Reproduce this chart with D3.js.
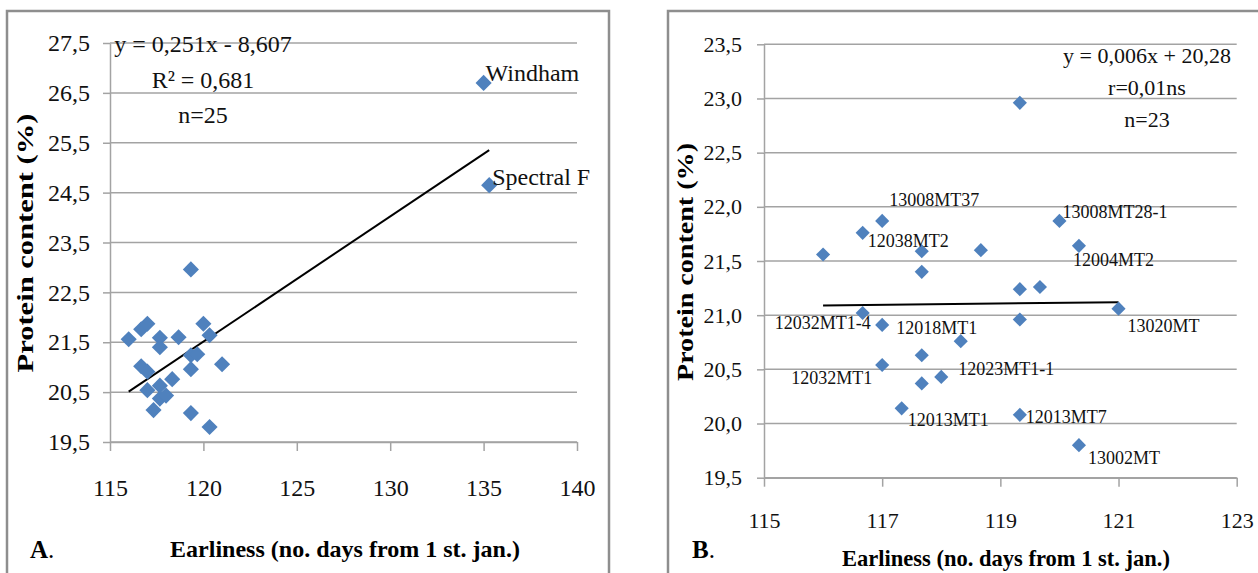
<!DOCTYPE html>
<html>
<head>
<meta charset="utf-8">
<script src="https://cdn.jsdelivr.net/npm/d3@7"></script>
<style>
  body { margin: 0; background: #fff; }
  svg, svg text { font-family: "Liberation Serif", "Times New Roman", "DejaVu Serif", serif; }
</style>
</head>
<body>
<div id="chart"></div>
<script>
// breeding lines (panel B, also the cluster in panel A)
const lineNames = ["", "12038MT2", "13008MT37", "", "", "12032MT1-4", "12018MT1", "", "12032MT1", "",
  "12023MT1-1", "12013MT1", "", "", "", "13020MT", "", "12013MT7", "13002MT", "", "", "13008MT28-1", "12004MT2"];
const lineDays = [116.0, 116.67, 117.0, 117.67, 117.67, 116.67, 117.0, 117.67, 117.0, 117.67,
  118.0, 117.33, 118.33, 119.33, 119.67, 121.0, 119.33, 119.33, 120.33, 119.33, 118.67, 120.0, 120.33];
const lineProtein = [21.56, 21.76, 21.87, 21.59, 21.40, 21.02, 20.91, 20.63, 20.54, 20.37,
  20.43, 20.14, 20.76, 21.24, 21.26, 21.06, 20.96, 20.08, 19.80, 22.96, 21.60, 21.87, 21.64];

// check cultivars, only in panel A
const cultivarNames = ["Windham", "Spectral F"];
const cultivarDays = [135.0, 135.3];
const cultivarProtein = [26.7, 24.65];

// axis ticks
const xTicksA = [115, 120, 125, 130, 135, 140];
const yTicksA = [19.5, 20.5, 21.5, 22.5, 23.5, 24.5, 25.5, 26.5, 27.5];
const xTicksB = [115, 117, 119, 121, 123];
const yTicksB = [19.5, 20.0, 20.5, 21.0, 21.5, 22.0, 22.5, 23.0, 23.5];

// regression lines
const trendA = { slope: 0.251, intercept: -8.607, from: 116, to: 135.3 };
const trendBDays = [116, 121];
const trendBProtein = [21.09, 21.12];

const statsA = ["y = 0,251x - 8,607", "R\u00b2 = 0,681", "n=25"];
const statsB = ["y = 0,006x + 20,28", "r=0,01ns", "n=23"];

const W = 1258, H = 573;
const blue = "#4f81bd";
const grid = "#a3a3a3";
const serif = "'Liberation Serif', 'Times New Roman', 'DejaVu Serif', serif";

const fmt = d3.formatLocale({ decimal: ",", thousands: ".", grouping: [3], currency: ["", ""] }).format(".1f");

const svg = d3.select("#chart").append("svg")
  .attr("width", W)
  .attr("height", H)
  .attr("font-family", serif);

// label placement next to points (dx from point, dy to text middle)
const labelPos = {
  "12038MT2": { dx: 5, dy: 8, anchor: "start" },
  "13008MT37": { dx: 7, dy: -21, anchor: "start" },
  "12032MT1-4": { dx: 8, dy: 10, anchor: "end" },
  "12018MT1": { dx: 14, dy: 3, anchor: "start" },
  "12032MT1": { dx: -10, dy: 13, anchor: "end" },
  "12013MT1": { dx: 6, dy: 12, anchor: "start" },
  "12023MT1-1": { dx: 17, dy: -8, anchor: "start" },
  "13020MT": { dx: 9, dy: 17, anchor: "start" },
  "12013MT7": { dx: 6, dy: 2, anchor: "start" },
  "13002MT": { dx: 9, dy: 13, anchor: "start" },
  "13008MT28-1": { dx: 3, dy: -9, anchor: "start" },
  "12004MT2": { dx: -6, dy: 14, anchor: "start" },
  "Windham": { dx: 2, dy: -10, anchor: "start" },
  "Spectral F": { dx: 3, dy: -8, anchor: "start" }
};

function drawPanel(p) {
  const g = svg.append("g");

  // frame
  g.append("rect")
    .attr("x", p.frame[0]).attr("y", p.frame[1])
    .attr("width", p.frame[2]).attr("height", p.frame[3])
    .attr("fill", "#fff").attr("stroke", "#8e8e8e").attr("stroke-width", 2.5);

  const x = d3.scaleLinear().domain(p.xDomain).range(p.xRange);
  const y = d3.scaleLinear().domain(p.yDomain).range(p.yRange);

  // horizontal gridlines
  g.append("g").selectAll("line")
    .data(p.yTicks)
    .join("line")
    .attr("x1", p.xRange[0]).attr("x2", p.xRange[1])
    .attr("y1", d => y(d)).attr("y2", d => y(d))
    .attr("stroke", grid).attr("stroke-width", 1.5);

  const yAxis = g.append("g")
    .attr("transform", `translate(${p.xRange[0]},0)`)
    .call(d3.axisLeft(y).tickValues(p.yTicks).tickFormat(fmt).tickSize(7).tickSizeOuter(0).tickPadding(p.yPad));

  const xAxis = g.append("g")
    .attr("transform", `translate(0,${p.yRange[0]})`)
    .call(d3.axisBottom(x).tickValues(p.xTicks).tickFormat(d3.format("d")).tickSize(9).tickSizeOuter(0).tickPadding(p.xPad));

  [yAxis, xAxis].forEach(a => {
    a.attr("font-family", serif).attr("font-size", p.tickFont);
    a.select(".domain").attr("stroke", grid).attr("stroke-width", 1.5);
    a.selectAll(".tick line").attr("stroke", grid).attr("stroke-width", 1.5);
    a.selectAll("text")
      .attr("font-family", serif)
      .attr("font-size", p.tickFont)
      .attr("fill", "#111");
  });

  // trend line
  g.append("path")
    .datum(p.trend)
    .attr("d", d3.line().x(d => x(d[0])).y(d => y(d[1])))
    .attr("fill", "none").attr("stroke", "#000").attr("stroke-width", 2);

  // points
  const diamond = d3.symbol().type(d3.symbolSquare).size(p.markSize);
  g.append("g").selectAll("path")
    .data(p.points)
    .join("path")
    .attr("d", diamond)
    .attr("transform", d => `translate(${x(d.days)},${y(d.protein)}) rotate(45)`)
    .attr("fill", blue);

  // point labels
  g.append("g").selectAll("text")
    .data(p.points.filter(d => d.name !== ""))
    .join("text")
    .attr("x", d => x(d.days) + labelPos[d.name].dx)
    .attr("y", d => y(d.protein) + labelPos[d.name].dy)
    .attr("text-anchor", d => labelPos[d.name].anchor)
    .attr("dominant-baseline", "central")
    .attr("font-size", p.labelFont)
    .attr("fill", "#111")
    .text(d => d.name);

  // regression statistics
  g.append("g").selectAll("text")
    .data(p.stats)
    .join("text")
    .attr("x", p.statsX)
    .attr("y", (d, i) => p.statsY[i])
    .attr("text-anchor", "middle")
    .attr("font-size", p.statsFont)
    .attr("fill", "#111")
    .text(d => d);

  // axis titles
  g.append("text")
    .attr("x", p.xTitle[0]).attr("y", p.xTitle[1])
    .attr("text-anchor", "middle")
    .attr("font-size", p.titleFont).attr("font-weight", "bold")
    .attr("textLength", p.xTitle[2]).attr("lengthAdjust", "spacingAndGlyphs")
    .text("Earliness (no. days from 1 st. jan.)");

  g.append("text")
    .attr("transform", `translate(${p.yTitle[0]},${p.yTitle[1]}) rotate(-90)`)
    .attr("text-anchor", "middle")
    .attr("dominant-baseline", "central")
    .attr("font-size", 24).attr("font-weight", "bold")
    .attr("textLength", p.yTitle[2]).attr("lengthAdjust", "spacingAndGlyphs")
    .text("Protein content (%)");

  // panel letter
  const letter = g.append("text")
    .attr("x", p.letter[0]).attr("y", p.letter[1])
    .attr("font-size", 25);
  letter.append("tspan").attr("font-weight", "bold").text(p.letter[2]);
  letter.append("tspan").text(".");
}

const linePoints = lineNames.map((n, i) => ({ name: n, days: lineDays[i], protein: lineProtein[i] }));
const cultivarPoints = cultivarNames.map((n, i) => ({ name: n, days: cultivarDays[i], protein: cultivarProtein[i] }));

drawPanel({
  frame: [7, 11, 602, 620],
  xDomain: [115, 140], xRange: [110, 577],
  yDomain: [19.5, 27.5], yRange: [442, 43],
  xTicks: xTicksA, yTicks: yTicksA,
  yPad: 13, xPad: 28, tickFont: 24,
  trend: [trendA.from, trendA.to].map(d => [d, trendA.slope * d + trendA.intercept]),
  points: linePoints.map(d => ({ ...d, name: "" })).concat(cultivarPoints),
  markSize: 130, labelFont: 24,
  stats: statsA, statsX: 203, statsY: [52, 88, 123], statsFont: 24,
  xTitle: [345, 557, 350], yTitle: [25, 243, 259], titleFont: 24,
  letter: [30, 558, "A"]
});

drawPanel({
  frame: [668, 11, 700, 620],
  xDomain: [115, 123], xRange: [764, 1236.7],
  yDomain: [19.5, 23.5], yRange: [477.7, 44.3],
  xTicks: xTicksB, yTicks: yTicksB,
  yPad: 15, xPad: 26, tickFont: 22,
  trend: trendBDays.map((d, i) => [d, trendBProtein[i]]),
  points: linePoints,
  markSize: 100, labelFont: 18,
  stats: statsB, statsX: 1147, statsY: [63, 95, 127], statsFont: 22,
  xTitle: [1006, 566, 328], yTitle: [685, 262, 238], titleFont: 23,
  letter: [692, 558, "B"]
});
</script>
</body>
</html>
